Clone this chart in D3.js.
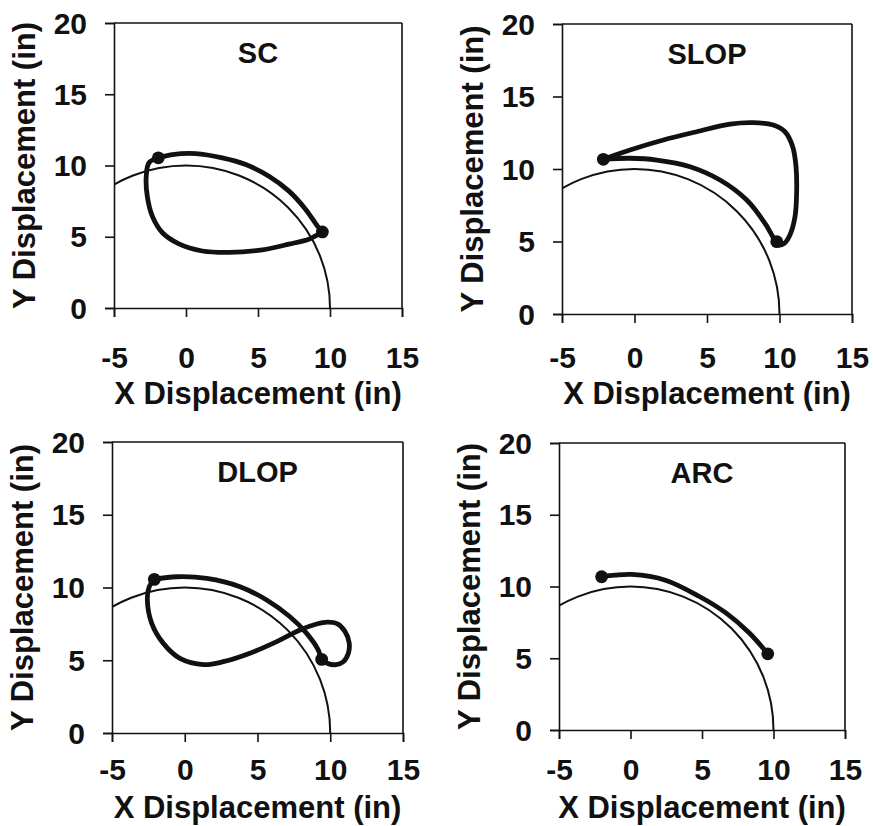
<!DOCTYPE html>
<html>
<head>
<meta charset="utf-8">
<script src="https://cdn.jsdelivr.net/npm/d3@7"></script>
<style>
  html, body { margin: 0; padding: 0; background: #fff; }
  svg { display: block; }
</style>
</head>
<body>
<svg id="chart" width="873" height="826"></svg>
<script>
// ---------------- DATA ----------------
const panelTitles = ["SC", "SLOP", "DLOP", "ARC"];
const xTicks = [-5, 0, 5, 10, 15];
const yTicks = [0, 5, 10, 15, 20];
const xDomain = [-5, 15];
const yDomain = [0, 20];
const xAxisTitle = "X Displacement (in)";
const yAxisTitle = "Y Displacement (in)";
const refRadius = 10; // reference circle radius (in)

// SC trajectory
const scX = [-1.92, -0.95, 0.67, 2.52, 4.15, 5.76, 7.15, 8.31, 9.12, 9.47, 9.0, 8.54, 7.15, 5.3, 3.0, 1.13, -0.49, -1.65, -2.34, -2.69, -2.76, -2.57, -1.92];
const scY = [10.54, 10.77, 10.84, 10.54, 10.07, 9.25, 8.2, 6.92, 5.76, 5.34, 5.06, 4.83, 4.48, 4.08, 3.9, 4.0, 4.5, 5.3, 6.45, 7.85, 9.25, 10.19, 10.54];
// SLOP trajectory
const slopX = [-2.15, -0.31, 1.99, 4.29, 6.59, 8.19, 9.57, 10.38, 10.91, 11.14, 11.18, 11.07, 10.72, 10.3, 9.85, 9.5, 9.0, 7.74, 5.9, 3.83, 1.53, -0.31, -2.15];
const slopY = [10.67, 11.31, 12.0, 12.57, 13.1, 13.2, 13.03, 12.57, 11.54, 10.16, 8.32, 6.71, 5.45, 4.85, 4.8, 5.4, 6.25, 7.86, 9.24, 10.16, 10.62, 10.74, 10.67];
// DLOP trajectory
const dlopX = [-2.09, -0.55, 1.51, 3.8, 5.63, 7.23, 8.38, 9.18, 9.41, 9.9, 10.4, 10.9, 11.25, 11.3, 11.0, 10.5, 9.8, 9.07, 7.92, 6.32, 4.48, 2.65, 1.3, -0.33, -1.47, -2.27, -2.57, -2.44, -2.09];
const dlopY = [10.56, 10.74, 10.63, 10.06, 9.14, 7.99, 6.85, 5.7, 5.06, 4.75, 4.7, 4.9, 5.5, 6.2, 7.0, 7.5, 7.62, 7.49, 7.08, 6.28, 5.48, 4.9, 4.7, 5.13, 6.16, 7.54, 9.14, 10.06, 10.56];
// ARC trajectory
const arcX = [-2.02, -1.08, 0.09, 2.44, 4.79, 6.67, 8.31, 9.6];
const arcY = [10.68, 10.79, 10.84, 10.44, 9.32, 8.16, 6.76, 5.31];

// start / end markers
const startX = [-1.92, -2.15, -2.09, -2.02];
const startY = [10.54, 10.67, 10.56, 10.68];
const endX = [9.47, 9.81, 9.41, 9.6];
const endY = [5.34, 4.99, 5.06, 5.31];

const trajX = [scX, slopX, dlopX, arcX];
const trajY = [scY, slopY, dlopY, arcY];

// ---------------- LAYOUT ----------------
const panels = [
  { x0: 114, x1: 402, yT: 23, yB: 308, tickBase: 368, labelBase: 404 },
  { x0: 562, x1: 852, yT: 24, yB: 314, tickBase: 368, labelBase: 404 },
  { x0: 112, x1: 403, yT: 442, yB: 733, tickBase: 780, labelBase: 818 },
  { x0: 559, x1: 845, yT: 443, yB: 730, tickBase: 780, labelBase: 818 }
];
const FONT = "'Liberation Sans', Arial, sans-serif";
const ink = "#111";
const tickFont = 30;
const labelFont = 31;

const svg = d3.select("#chart");
svg.append("rect").attr("width", 873).attr("height", 826).attr("fill", "#fff");

panels.forEach((p, i) => {
  const x = d3.scaleLinear().domain(xDomain).range([p.x0, p.x1]);
  const y = d3.scaleLinear().domain(yDomain).range([p.yB, p.yT]);
  const g = svg.append("g");

  const clipId = "clip" + i;
  svg.append("clipPath").attr("id", clipId)
    .append("rect").attr("x", p.x0).attr("y", p.yT)
    .attr("width", p.x1 - p.x0).attr("height", p.yB - p.yT);

  // frame (top & right)
  g.append("line").attr("x1", p.x0).attr("x2", p.x1).attr("y1", p.yT).attr("y2", p.yT)
    .attr("stroke", ink).attr("stroke-width", 1.6);
  g.append("line").attr("x1", p.x1).attr("x2", p.x1).attr("y1", p.yT).attr("y2", p.yB)
    .attr("stroke", ink).attr("stroke-width", 1.6);

  // bottom axis
  const xa = g.append("g").attr("transform", `translate(0,${p.yB})`)
    .call(d3.axisBottom(x).tickValues(xTicks).tickSize(9).tickFormat(d => String(d)));
  xa.selectAll("path, line").attr("stroke", ink).attr("stroke-width", 1.6);
  xa.selectAll("text").attr("dy", null).attr("y", p.tickBase - p.yB)
    .attr("font-family", FONT).attr("font-size", tickFont).attr("font-weight", "bold").attr("fill", ink);

  // left axis
  const ya = g.append("g").attr("transform", `translate(${p.x0},0)`)
    .call(d3.axisLeft(y).tickValues(yTicks).tickSize(9).tickPadding(18).tickFormat(d => String(d)));
  ya.selectAll("path, line").attr("stroke", ink).attr("stroke-width", 1.6);
  ya.selectAll("text").attr("dy", "0.34em")
    .attr("font-family", FONT).attr("font-size", tickFont).attr("font-weight", "bold").attr("fill", ink);

  // reference circle (radius 10 about origin)
  g.append("ellipse")
    .attr("cx", x(0)).attr("cy", y(0))
    .attr("rx", x(refRadius) - x(0)).attr("ry", y(0) - y(refRadius))
    .attr("fill", "none").attr("stroke", ink).attr("stroke-width", 2)
    .attr("clip-path", `url(#${clipId})`);

  // trajectory
  const pts = trajX[i].map((v, k) => [v, trajY[i][k]]);
  const line = d3.line().x(d => x(d[0])).y(d => y(d[1]))
    .curve(d3.curveCatmullRom.alpha(0.5));
  g.append("path").attr("d", line(pts))
    .attr("fill", "none").attr("stroke", ink).attr("stroke-width", 4.8)
    .attr("stroke-linejoin", "round").attr("stroke-linecap", "round");

  // markers
  [[startX[i], startY[i]], [endX[i], endY[i]]].forEach(d => {
    g.append("circle").attr("cx", x(d[0])).attr("cy", y(d[1])).attr("r", 6.4).attr("fill", ink);
  });

  // title
  g.append("text").attr("x", (p.x0 + p.x1) / 2).attr("y", p.yT + 40)
    .attr("text-anchor", "middle").attr("font-family", FONT).attr("font-size", 29)
    .attr("font-weight", "bold").attr("fill", ink).text(panelTitles[i]);

  // axis titles
  g.append("text").attr("x", (p.x0 + p.x1) / 2).attr("y", p.labelBase)
    .attr("text-anchor", "middle").attr("font-family", FONT).attr("font-size", labelFont)
    .attr("font-weight", "bold").attr("fill", ink).text(xAxisTitle);
  g.append("text")
    .attr("transform", `translate(${p.x0 - 79},${(p.yT + p.yB) / 2}) rotate(-90)`)
    .attr("text-anchor", "middle").attr("font-family", FONT).attr("font-size", labelFont)
    .attr("font-weight", "bold").attr("fill", ink).text(yAxisTitle);
});
</script>
</body>
</html>
